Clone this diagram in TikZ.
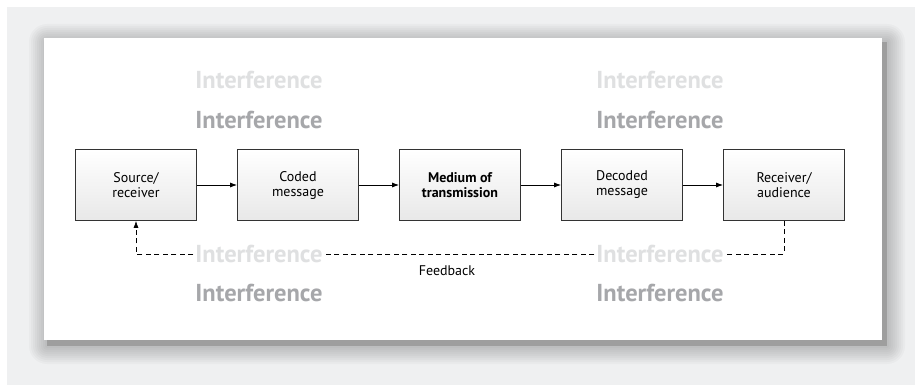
\documentclass[tikz,border=0pt]{standalone}
\usepackage{fontspec}
\setmainfont{PT Sans}
\usetikzlibrary{arrows.meta}

\definecolor{backdrop}{HTML}{EFF0F1}
\definecolor{noiselight}{HTML}{DFE0E1}
\definecolor{noisedark}{HTML}{A6A7AA}

\begin{document}
\begin{tikzpicture}[x=1pt,y=-1pt,
   stage/.style={draw=black!80,line width=0.8pt,minimum width=121pt,minimum height=71pt,
      inner sep=0pt,align=center,top color=white,bottom color=black!9,
      font=\fontsize{14}{15}\selectfont},
   noise/.style={inner sep=2pt,font=\fontsize{24.5}{26}\selectfont\bfseries},
   flow/.style={line width=0.8pt,-{Latex[length=7pt,width=5pt]}},
   back/.style={line width=0.7pt,dash pattern=on 5pt off 3.5pt}]
   % page and panel
   \fill[white] (0,0) rectangle (915,385);
   \fill[backdrop] (7,7) rectangle (915,385);
   \foreach \g in {1,...,9}
      \fill[black,opacity=0.022,rounded corners=2*\g pt]
         (47-2*\g,42-2*\g) rectangle (887+2*\g,346+2*\g);
   \fill[black!38] (47,42) rectangle (887,346);
   \fill[white] (44,38) rectangle (882,340);
   % stages
   \node[stage] (src)    at (136,185) {Source/\\receiver};
   \node[stage] (code)   at (298,185) {Coded\\message};
   \node[stage] (medium) at (460,185) {\bfseries Medium of\\\bfseries transmission};
   \node[stage] (decode) at (622,185) {Decoded\\message};
   \node[stage] (recv)   at (784,185) {Receiver/\\audience};
   % interference
   \node[noise,text=noiselight] (iA) at (259,80)  {Interference};
   \node[noise,text=noisedark]  (iB) at (259,120) {Interference};
   \node[noise,text=noiselight] (iC) at (660,80)  {Interference};
   \node[noise,text=noisedark]  (iD) at (660,120) {Interference};
   \node[noise,text=noiselight] (iE) at (259,254) {Interference};
   \node[noise,text=noisedark]  (iF) at (259,293) {Interference};
   \node[noise,text=noiselight] (iG) at (660,254) {Interference};
   \node[noise,text=noisedark]  (iH) at (660,293) {Interference};
   \node[font=\fontsize{14}{15}\selectfont] (fb) at (447,271) {Feedback};
   \draw[flow] (src)    -- (code);
   \draw[flow] (code)   -- (medium);
   \draw[flow] (medium) -- (decode);
   \draw[flow] (decode) -- (recv);
   \draw[back] (recv.south) |- (iG.east);
   \draw[back] (iG.west) -- (iE.east);
   \draw[back,-{Latex[length=7pt,width=5pt]}] (iE.west) -| (src.south);
\end{tikzpicture}
\end{document}
